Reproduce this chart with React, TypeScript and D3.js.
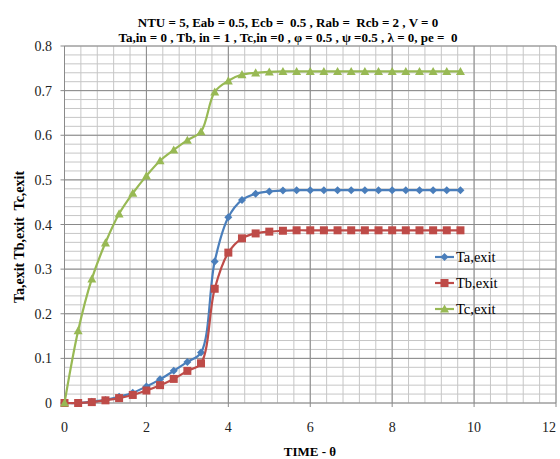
import React from "react";
import * as d3 from "d3";

const THETA = [0, 0.333, 0.667, 1, 1.333, 1.667, 2, 2.333, 2.667, 3, 3.333, 3.667, 4, 4.333, 4.667, 5, 5.333, 5.667, 6, 6.333, 6.667, 7, 7.333, 7.667, 8, 8.333, 8.667, 9, 9.333, 9.667];
const TA = [0, 0, 0.003, 0.007, 0.014, 0.023, 0.037, 0.053, 0.072, 0.092, 0.113, 0.317, 0.416, 0.455, 0.469, 0.474, 0.476, 0.477, 0.477, 0.477, 0.477, 0.477, 0.477, 0.477, 0.477, 0.477, 0.477, 0.477, 0.477, 0.477];
const TB = [0, 0, 0.002, 0.006, 0.011, 0.018, 0.028, 0.04, 0.054, 0.072, 0.089, 0.256, 0.337, 0.369, 0.38, 0.384, 0.386, 0.387, 0.387, 0.387, 0.387, 0.387, 0.387, 0.387, 0.387, 0.387, 0.387, 0.387, 0.387, 0.387];
const TC = [0, 0.162, 0.278, 0.359, 0.424, 0.47, 0.509, 0.543, 0.567, 0.589, 0.608, 0.697, 0.722, 0.736, 0.74, 0.742, 0.743, 0.743, 0.743, 0.743, 0.743, 0.743, 0.743, 0.743, 0.743, 0.743, 0.743, 0.743, 0.743, 0.743];
const SERIES_NAMES = ["Ta,exit", "Tb,exit", "Tc,exit"];
const X_TICKS = [0, 2, 4, 6, 8, 10, 12];
const Y_TICKS = [0, 0.1, 0.2, 0.3, 0.4, 0.5, 0.6, 0.7, 0.8];
const TITLE1 = "NTU = 5, Eab = 0.5, Ecb =  0.5 , Rab =  Rcb = 2 , V = 0";
const TITLE2 = "Ta,in = 0 , Tb, in = 1 , Tc,in =0 , φ = 0.5 , ψ =0.5 , λ = 0, pe =  0";
const Y_TITLE = "Ta,exit Tb,exit  Tc,exit";
const X_TITLE = "TIME - θ";

const COLORS = ["#4A7EBB", "#BE4B48", "#98B954"];
const FONT = "'Liberation Serif', 'Times New Roman', serif";

function Marker({ kind, x, y, color }: { kind: number; x: number; y: number; color: string }) {
  if (kind === 0) {
    const s = 4;
    return <path d={`M${x},${y - s}L${x + s},${y}L${x},${y + s}L${x - s},${y}Z`} fill={color} />;
  }
  if (kind === 1) {
    const s = 4;
    return <rect x={x - s} y={y - s} width={2 * s} height={2 * s} fill={color} />;
  }
  const s = 4.5;
  return <path d={`M${x},${y - s}L${x + s},${y + s * 0.8}L${x - s},${y + s * 0.8}Z`} fill={color} />;
}

export default function App() {
  const W = 560, H = 459;
  const x = d3.scaleLinear().domain([0, 12]).range([64.5, 556]);
  const y = d3.scaleLinear().domain([0, 0.8]).range([403, 46]);
  const minorX = d3.range(0, 12.0001, 0.4);
  const minorY = d3.range(0, 0.80001, 0.02);
  const data = [TA, TB, TC];
  const line = d3
    .line<number>()
    .x((_, i) => x(THETA[i]))
    .y((v) => y(v))
    .curve(d3.curveCatmullRom.alpha(0.5));
  const pre = { whiteSpace: "pre" as const };

  return (
    <svg width={W} height={H} style={{ position: "fixed", left: 0, top: 0, background: "#fff" }} fontFamily={FONT}>
      <rect width={W} height={H} fill="#fff" />
      {minorX.map((t, i) => (
        <line key={"mx" + i} x1={x(t)} x2={x(t)} y1={y(0)} y2={y(0.8)} stroke="#c6c6c6" strokeWidth={1} />
      ))}
      {minorY.map((t, i) => (
        <line key={"my" + i} x1={x(0)} x2={x(12)} y1={y(t)} y2={y(t)} stroke="#c6c6c6" strokeWidth={1} />
      ))}
      {X_TICKS.map((t) => (
        <line key={"Mx" + t} x1={x(t)} x2={x(t)} y1={y(0)} y2={y(0.8)} stroke="#8a8a8a" strokeWidth={1} />
      ))}
      {Y_TICKS.map((t) => (
        <line key={"My" + t} x1={x(0) - 4} x2={x(12)} y1={y(t)} y2={y(t)} stroke="#8a8a8a" strokeWidth={1} />
      ))}
      {X_TICKS.map((t) => (
        <line key={"tx" + t} x1={x(t)} x2={x(t)} y1={y(0)} y2={y(0) + 4} stroke="#8a8a8a" strokeWidth={1} />
      ))}
      {Y_TICKS.map((t) => (
        <text key={"ly" + t} x={52} y={y(t) + 5} textAnchor="end" fontSize={14} fill="#222">
          {t === 0 ? "0" : t.toFixed(1)}
        </text>
      ))}
      {X_TICKS.map((t) => (
        <text key={"lx" + t} x={Math.min(x(t), 549)} y={432} textAnchor="middle" fontSize={14} fill="#222">
          {t}
        </text>
      ))}
      {data.map((vals, si) => (
        <g key={"s" + si}>
          <path d={line(vals) || ""} fill="none" stroke={COLORS[si]} strokeWidth={2.2} />
          {vals.map((v, i) => (
            <Marker key={i} kind={si} x={x(THETA[i])} y={y(v)} color={COLORS[si]} />
          ))}
        </g>
      ))}
      {SERIES_NAMES.map((n, i) => {
        const ly = 257 + i * 26;
        return (
          <g key={"lg" + i}>
            <line x1={435} x2={454} y1={ly} y2={ly} stroke={COLORS[i]} strokeWidth={2.2} />
            <Marker kind={i} x={444.5} y={ly} color={COLORS[i]} />
            <text x={456} y={ly + 5} fontSize={14.5} fill="#000">
              {n}
            </text>
          </g>
        );
      })}
      <text x={288} y={27} textAnchor="middle" fontSize={13} fontWeight="bold" fill="#000" style={pre}>
        {TITLE1}
      </text>
      <text x={288} y={42} textAnchor="middle" fontSize={13} fontWeight="bold" fill="#000" style={pre}>
        {TITLE2}
      </text>
      <text x={310} y={456} textAnchor="middle" fontSize={13} fontWeight="bold" fill="#000">
        {X_TITLE}
      </text>
      <text
        transform={`translate(24, 237) rotate(-90)`}
        textAnchor="middle"
        fontSize={14}
        fontWeight="bold"
        fill="#000"
        style={pre}
      >
        {Y_TITLE}
      </text>
    </svg>
  );
}
